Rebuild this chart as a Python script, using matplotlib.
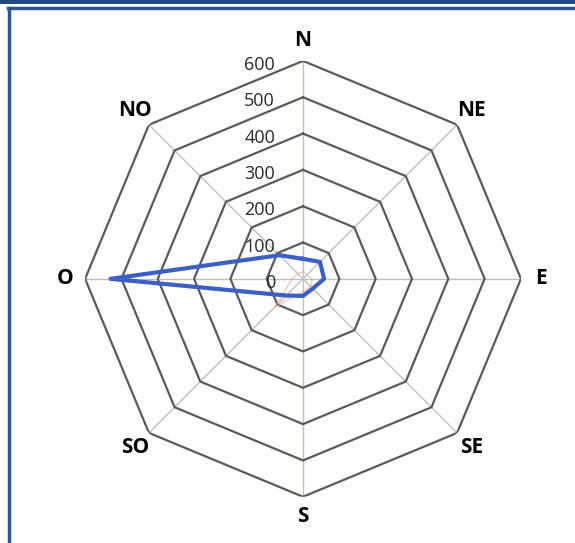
import numpy as np
import matplotlib
matplotlib.use('Agg')
import matplotlib.pyplot as plt
import matplotlib.transforms as mtransforms
from matplotlib.lines import Line2D
from matplotlib.patches import Rectangle

directions = ['N', 'NE', 'E', 'SE', 'S', 'SO', 'O', 'NO']
ring_ticks = [0, 100, 200, 300, 400, 500, 600]
tick_labels = ['0', '100', '200', '300', '400', '500', '600']
wind_main = [55, 66, 58, 38, 47, 65, 530, 92]
wind_faint = [20, 15, 25, 30, 35, 110, 30, 20]

plt.rcParams['font.family'] = ['Open Sans', 'DejaVu Sans']

fig = plt.figure(figsize=(5.75, 5.43), dpi=100)
ax = fig.add_axes([0.148, 0.085, 0.758, 0.803], projection='polar')
ax.set_theta_offset(np.pi / 2)
ax.set_theta_direction(-1)
ax.set_ylim(0, 600)
ax.grid(False)
ax.spines['polar'].set_visible(False)
ax.set_xticks([])
ax.set_yticks([])

theta = np.linspace(0, 2 * np.pi, len(directions), endpoint=False)
closed = np.append(theta, theta[0])

# spokes
for t in theta:
    ax.plot([t, t], [0, 600], color='#c4bdb8', lw=1, zorder=1)

# octagon rings
for r in ring_ticks[1:]:
    ax.plot(closed, [r] * len(closed), color='#5a5a5a', lw=1.6, zorder=2)

# series
ax.plot(closed, wind_faint + wind_faint[:1], color='#e8a0a0', lw=1, alpha=0.6, zorder=3)
ax.plot(closed, wind_main + wind_main[:1], color='#3b5fc4', lw=3, zorder=4)

# ring labels left of the N axis
off = mtransforms.offset_copy(ax.transData, fig=fig, x=-28, y=-4, units='dots')
for r, lab in zip(ring_ticks, tick_labels):
    ax.text(0, r, lab, transform=off, ha='right', va='center',
            fontsize=13, color='#2a2a2a', zorder=5)

# direction labels
for t, d in zip(theta, directions):
    ax.text(t, 655, d, ha='center', va='center', fontsize=15,
            fontweight='bold', color='black', clip_on=False)

# frame
W, H = 575, 543
fig.add_artist(Rectangle((0, 1 - 3.5 / H), 1, 3.5 / H, transform=fig.transFigure,
                         color='#1f4a85', lw=0))
fig.add_artist(Line2D([8 / W, 1], [1 - 7.5 / H, 1 - 7.5 / H], transform=fig.transFigure,
                      color='#2b5592', lw=2.5))
fig.add_artist(Line2D([9 / W, 9 / W], [0, 1 - 7.5 / H], transform=fig.transFigure,
                      color='#2b5592', lw=2.5))

fig.savefig('out.png', dpi=100)
